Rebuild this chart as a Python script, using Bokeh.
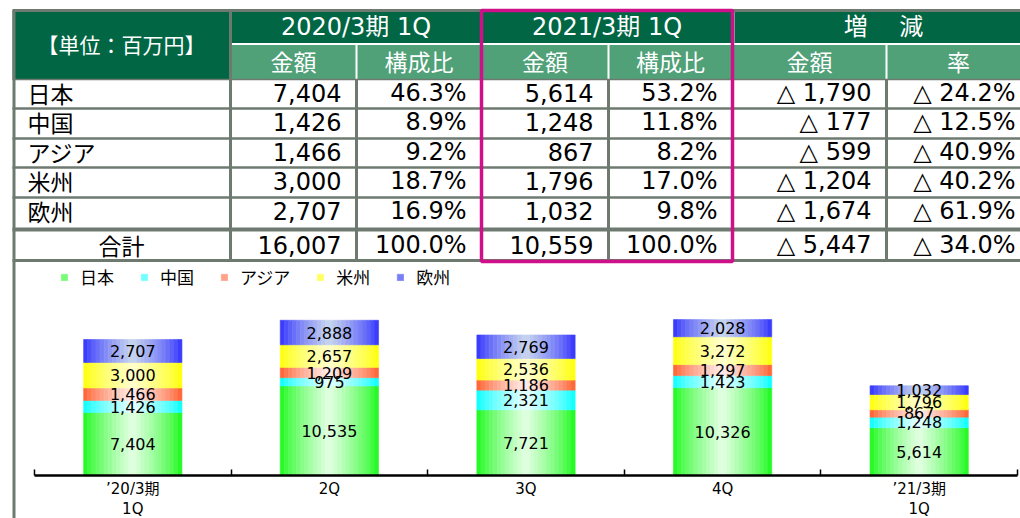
import numpy as np
from bokeh.plotting import figure
from bokeh.models import (ColumnDataSource, Range1d, LinearAxis, FixedTicker,
                          Legend, LegendItem)
from bokeh.core.properties import value
from bokeh.embed import file_html
from bokeh.resources import INLINE

# ---------------- table data ----------------
regions = ["日本", "中国", "アジア", "米州", "欧州"]
total_label = "合計"
amt_2020 = [7404, 1426, 1466, 3000, 2707]
share_2020 = [46.3, 8.9, 9.2, 18.7, 16.9]
amt_2021 = [5614, 1248, 867, 1796, 1032]
share_2021 = [53.2, 11.8, 8.2, 17.0, 9.8]
diff_amt = [1790, 177, 599, 1204, 1674]
diff_rate = [24.2, 12.5, 40.9, 40.2, 61.9]
total_2020 = 16007
total_2021 = 10559
total_share = 100.0
total_diff = 5447
total_rate = 34.0

unit_label = "【単位：百万円】"
group_labels = ["2020/3期 1Q", "2021/3期 1Q", "増\u3000 減"]
sub_labels = ["金額", "構成比", "金額", "構成比", "金額", "率"]

# ---------------- chart data ----------------
quarters = ["’20/3期\n1Q", "2Q", "3Q", "4Q", "’21/3期\n1Q"]
japan = [7404, 10535, 7721, 10326, 5614]
china = [1426, 975, 2321, 1423, 1248]
asia = [1466, 1209, 1186, 1297, 867]
americas = [3000, 2657, 2536, 3272, 1796]
europe = [2707, 2888, 2769, 2028, 1032]

# ---------------- styling / layout ----------------
W, H = 1020, 518
LAT = "DejaVu Sans, Noto Sans CJK JP"
JP = "Noto Sans CJK JP"
DARK = "#006644"
LIGHT = "#50A078"
GRID = "#6E7A70"
MAG = "#D0108A"

# chart scale (screen px)
X_LEFT, X_RIGHT, BASE_Y, K = 34, 1017, 475, 0.0085
s = (X_RIGHT - X_LEFT) / 5
x0 = -X_LEFT / s
x1 = 5 + (W - X_RIGHT) / s
y0 = -(H - BASE_Y) / K
y1 = BASE_Y / K

p = figure(width=W, height=H, output_backend="svg", toolbar_location=None,
           x_range=Range1d(x0, x1), y_range=Range1d(y0, y1),
           x_axis_type=None, y_axis_type=None, min_border=0,
           outline_line_color=None, background_fill_color="white",
           border_fill_color="white")
p.extra_x_ranges = {"px": Range1d(0, W)}
p.extra_y_ranges = {"px": Range1d(H, 0)}
PX = dict(x_range_name="px", y_range_name="px")

# ---------------- table ----------------
col_edges = [12, 230, 356, 481, 608, 732, 886, 1030]
row_edges = [79, 108, 138, 167, 197, 227]
TOT_TOP, TOT_BOT = 231, 260
H1_TOP, H1_BOT, H2_BOT = 10, 43.5, 79
TY = -1.5  # text vertical nudge

# header backgrounds
p.quad(left=[12], right=[230], top=[H1_TOP], bottom=[H2_BOT], fill_color=DARK,
       line_color=None, **PX)
grp_l = [230, 481, 734]
grp_r = [481, 732, 1040]
p.quad(left=grp_l, right=grp_r, top=[H1_TOP] * 3, bottom=[H1_BOT] * 3,
       fill_color=DARK, line_color=None, **PX)
p.quad(left=col_edges[1:-1], right=col_edges[2:-1] + [1040], top=[H1_BOT] * 6,
       bottom=[H2_BOT] * 6, fill_color=LIGHT, line_color=None, **PX)
# white separators in header
p.segment(x0=[230], y0=[H1_BOT], x1=[1040], y1=[H1_BOT], line_color="white",
          line_width=2, **PX)
p.segment(x0=[356, 608, 886], y0=[H1_BOT] * 3, x1=[356, 608, 886], y1=[H2_BOT] * 3,
          line_color="white", line_width=2, **PX)

# grey grid
hy = row_edges[1:-1]
p.segment(x0=[12] * len(hy), y0=hy, x1=[1040] * len(hy), y1=hy,
          line_color=GRID, line_width=2.5, **PX)
p.segment(x0=[12, 12, 12], y0=[79, 229, TOT_BOT], x1=[1040, 1040, 1040],
          y1=[79, 229, TOT_BOT], line_color=GRID, line_width=[1.5, 4, 3], **PX)
p.segment(x0=[12], y0=[H1_TOP], x1=[1040], y1=[H1_TOP], line_color=GRID,
          line_width=3, **PX)
p.segment(x0=[13.5], y0=[H1_TOP], x1=[13.5], y1=[H], line_color=GRID,
          line_width=3, **PX)
p.segment(x0=[230], y0=[H1_TOP], x1=[230], y1=[TOT_BOT], line_color=GRID,
          line_width=3, **PX)
p.segment(x0=[356, 608, 886], y0=[H2_BOT] * 3, x1=[356, 608, 886],
          y1=[TOT_BOT] * 3, line_color=GRID, line_width=3, **PX)
# magenta box
p.quad(left=[481], right=[732], top=[10], bottom=[261], fill_color=None,
       line_color=MAG, line_width=3.5, **PX)

# header texts
p.text(x=[121], y=[44.5 + TY], text=[unit_label], text_font=value(JP),
       text_font_size="21px", text_color="white", text_align="center",
       text_baseline="middle", **PX)
p.text(x=[(a + b) / 2 for a, b in zip(grp_l, [481, 732, 1032])], y=[27.5 + TY] * 3,
       text=group_labels, text_font=value(LAT), text_font_size="24px",
       text_color="white", text_align="center", text_baseline="middle", **PX)
sub_c = [(a + b) / 2 for a, b in zip(col_edges[1:-1], col_edges[2:])]
p.text(x=sub_c, y=[61.5 + TY] * 6, text=sub_labels, text_font=value(JP),
       text_font_size="23px", text_color="white", text_align="center",
       text_baseline="middle", **PX)

# body texts
row_c = [(a + b) / 2 + TY for a, b in zip(row_edges[:-1], row_edges[1:])] + \
        [(TOT_TOP + TOT_BOT) / 2 + TY]
p.text(x=[27] * 5, y=row_c[:5], text=regions, text_font=value(JP),
       text_font_size="23px", text_color="black", text_align="left",
       text_baseline="middle", **PX)
p.text(x=[121], y=[row_c[5]], text=[total_label], text_font=value(JP),
       text_font_size="23px", text_color="black", text_align="center",
       text_baseline="middle", **PX)

cols = [
    [f"{v:,}" for v in amt_2020] + [f"{total_2020:,}"],
    [f"{v:.1f}%" for v in share_2020] + [f"{total_share:.1f}%"],
    [f"{v:,}" for v in amt_2021] + [f"{total_2021:,}"],
    [f"{v:.1f}%" for v in share_2021] + [f"{total_share:.1f}%"],
    [f"△ {v:,}" for v in diff_amt] + [f"△ {total_diff:,}"],
    [f"△ {v:.1f}%" for v in diff_rate] + [f"△ {total_rate:.1f}%"],
]
cx, cy, ct = [], [], []
for ci, col in enumerate(cols):
    for ri, t in enumerate(col):
        cx.append(col_edges[ci + 2] - 15)
        cy.append(row_c[ri])
        ct.append(t)
p.text(x="x", y="y", text="t", source=ColumnDataSource(dict(x=cx, y=cy, t=ct)),
       text_font=value(LAT), text_font_size="24px", text_color="black",
       text_align="right", text_baseline="middle", **PX)

# ---------------- stacked bar chart ----------------
series = [japan, china, asia, americas, europe]
edge_cols = [(20, 250, 20), (0, 255, 255), (255, 90, 40), (255, 255, 0), (45, 45, 255)]
center_cols = [(228, 255, 228), (232, 255, 255), (255, 238, 236), (255, 255, 205),
               (200, 214, 238)]

N = 24
BW = 0.5
offs = (np.arange(N) + 0.5) / N * BW - BW / 2
tt = np.abs(offs / (BW / 2))
wmix = (1 - tt) ** 0.75
centers = np.arange(5) + 0.5

bottoms = np.zeros(5)
renderers = []
lx, ly, lt = [], [], []
for vals, ec, cc in zip(series, edge_cols, center_cols):
    v = np.array(vals, dtype=float)
    tops = bottoms + v
    cols_hex = []
    for w in wmix:
        c = [int(round(e * (1 - w) + c_ * w)) for e, c_ in zip(ec, cc)]
        cols_hex.append("#%02x%02x%02x" % tuple(c))
    src = ColumnDataSource(dict(
        x=np.repeat(centers, N) + np.tile(offs, 5),
        b=np.repeat(bottoms, N), t=np.repeat(tops, N),
        c=cols_hex * 5))
    r = p.vbar(x="x", width=BW / N, bottom="b", top="t", fill_color="c",
               line_color="c", line_width=0.6, source=src)
    renderers.append(r)
    lx += list(centers)
    ly += list((bottoms + tops) / 2)
    lt += [f"{int(x):,}" for x in vals]
    bottoms = tops

p.text(x="x", y="y", text="t", source=ColumnDataSource(dict(x=lx, y=ly, t=lt)),
       text_font=value(LAT), text_font_size="16px", text_color="black",
       text_align="center", text_baseline="middle")

legend = Legend(items=[LegendItem(label=n, renderers=[r], index=N // 5)
                       for n, r in zip(regions, renderers)],
                orientation="horizontal", location=(60, 229),
                glyph_width=8, glyph_height=8, label_standoff=12, spacing=26,
                padding=0, margin=0, label_height=17,
                label_text_font=JP, label_text_font_size="17px",
                label_text_color="black",
                background_fill_alpha=0, border_line_alpha=0)
p.add_layout(legend)

xaxis = LinearAxis(fixed_location=0,
                   ticker=FixedTicker(ticks=list(centers), minor_ticks=list(range(6))))
xaxis.bounds = (0, 5)
xaxis.major_label_overrides = {float(c): q for c, q in zip(centers, quarters)}
xaxis.axis_line_color = "black"
xaxis.axis_line_width = 2.5
xaxis.major_tick_line_color = None
xaxis.major_tick_in = 0
xaxis.major_tick_out = 0
xaxis.minor_tick_in = 6
xaxis.minor_tick_out = 0
xaxis.minor_tick_line_color = "black"
xaxis.minor_tick_line_width = 1.5
xaxis.major_label_text_font = LAT
xaxis.major_label_text_font_size = "15px"
xaxis.major_label_text_color = "black"
xaxis.major_label_standoff = 4
xaxis.major_label_text_line_height = 1.15
p.add_layout(xaxis, "below")

open("out.html", "w").write(file_html(p, INLINE))
